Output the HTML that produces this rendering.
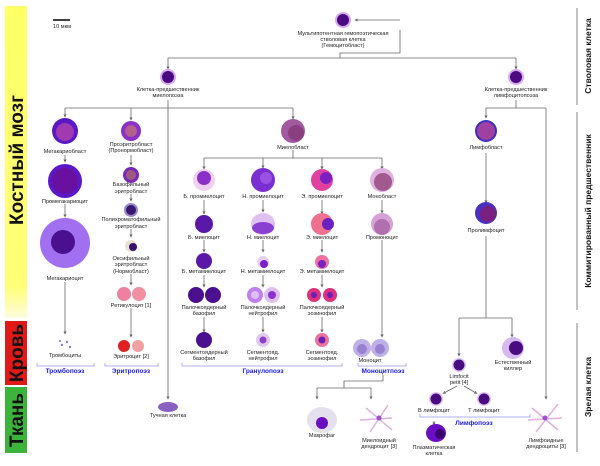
<!DOCTYPE html>
<html><head><meta charset="utf-8"><style>
html,body{margin:0;padding:0;background:#fff;}
svg{display:block}
text{font-family:"Liberation Sans",sans-serif;font-size:5.6px;fill:#222;text-anchor:middle}
.b{font-weight:bold;fill:#1a1aee;font-size:6.5px}
.side{font-weight:bold;font-size:8.5px;fill:#111}
.big{font-weight:bold;font-size:19px;fill:#111}
line,polyline{stroke:#666;stroke-width:0.8;fill:none}
.br{stroke:#99f;stroke-width:0.8;fill:none}
.dd{stroke:#e0b0e0 !important;stroke-width:1.5 !important}
</style></head><body>
<svg width="600" height="466" viewBox="0 0 600 466" xmlns="http://www.w3.org/2000/svg">
<defs>
<linearGradient id="yg" x1="0" y1="0" x2="0" y2="1"><stop offset="0" stop-color="#ffff66"/><stop offset="0.9" stop-color="#ffff77"/><stop offset="1" stop-color="#fffbe0"/></linearGradient>
<marker id="a" markerWidth="4" markerHeight="4" refX="2" refY="2" orient="auto"><path d="M0,0 L4,2 L0,4 z" fill="#666"/></marker>
</defs>
<rect x="5" y="6" width="22" height="312" fill="url(#yg)"/>
<rect x="5" y="321" width="22" height="64" fill="#e01818"/>
<rect x="5" y="387" width="22" height="66" fill="#3cb43c"/>
<text class="big" transform="translate(23,160) rotate(-90)">Костный мозг</text>
<text class="big" transform="translate(23,353) rotate(-90)">Кровь</text>
<text class="big" transform="translate(23,420) rotate(-90)">Ткань</text>
<line x1="577" y1="8" x2="577" y2="105"/><line x1="577" y1="112" x2="577" y2="310"/><line x1="577" y1="323" x2="577" y2="452"/>
<text class="side" transform="translate(591,56) rotate(-90)">Стволовая клетка</text>
<text class="side" transform="translate(591,211) rotate(-90)">Коммитированный предшественник</text>
<text class="side" transform="translate(591,387) rotate(-90)">Зрелая клетка</text>
<line x1="53" y1="20" x2="70" y2="20" style="stroke:#000;stroke-width:1.5"/><text x="62" y="28">10 мкм</text>

<polyline points="400,30 400,53 340,53 340,58"/>
<polyline points="400,20 356,20" marker-end="url(#a)"/>
<line x1="168" y1="58" x2="516" y2="58"/>
<line x1="168" y1="58" x2="168" y2="68" marker-end="url(#a)"/>
<line x1="516" y1="58" x2="516" y2="68" marker-end="url(#a)"/>
<line x1="168" y1="100" x2="168" y2="398" marker-end="url(#a)"/>
<line x1="65" y1="108" x2="293" y2="108"/>
<line x1="65" y1="108" x2="65" y2="116" marker-end="url(#a)"/>
<line x1="131" y1="108" x2="131" y2="119" marker-end="url(#a)"/>
<line x1="293" y1="108" x2="293" y2="118" marker-end="url(#a)"/>
<line x1="293" y1="150" x2="293" y2="158"/>
<line x1="204" y1="158" x2="382" y2="158"/>
<g marker-end="url(#a)">
<line x1="204" y1="158" x2="204" y2="168"/><line x1="263" y1="158" x2="263" y2="167"/><line x1="322" y1="158" x2="322" y2="168"/><line x1="382" y1="158" x2="382" y2="168"/>
<line x1="65" y1="155" x2="65" y2="161"/><line x1="65" y1="204" x2="65" y2="216"/><line x1="65" y1="282" x2="65" y2="333"/>
<line x1="131" y1="155" x2="131" y2="164"/><line x1="131" y1="194" x2="131" y2="200"/><line x1="131" y1="229" x2="131" y2="236"/><line x1="131" y1="274" x2="131" y2="284"/><line x1="131" y1="308" x2="131" y2="336"/>
</g>
<g marker-end="url(#a)">
<line x1="204" y1="200" x2="204" y2="213"/><line x1="204" y1="240" x2="204" y2="251"/><line x1="204" y1="275" x2="204" y2="286"/><line x1="204" y1="317" x2="204" y2="331"/>
<line x1="263" y1="200" x2="263" y2="211"/><line x1="263" y1="240" x2="263" y2="251"/><line x1="263" y1="275" x2="263" y2="286"/><line x1="263" y1="317" x2="263" y2="331"/>
<line x1="322" y1="200" x2="322" y2="213"/><line x1="322" y1="240" x2="322" y2="251"/><line x1="322" y1="275" x2="322" y2="286"/><line x1="322" y1="317" x2="322" y2="331"/>
<line x1="382" y1="200" x2="382" y2="212"/><line x1="382" y1="240" x2="382" y2="336"/>
</g>
<polyline points="383,375 383,381 344,381 344,388"/>
<line x1="317" y1="388" x2="371" y2="388"/>
<line x1="317" y1="388" x2="317" y2="398" marker-end="url(#a)"/>
<line x1="371" y1="388" x2="371" y2="398" marker-end="url(#a)"/>
<polyline points="516,100 516,108 486,108 486,117" marker-end="url(#a)"/>
<line x1="516" y1="108" x2="546" y2="108"/>
<line x1="546" y1="108" x2="546" y2="398" marker-end="url(#a)"/>
<line x1="486" y1="153" x2="486" y2="202" marker-end="url(#a)"/>
<line x1="486" y1="236" x2="486" y2="318"/>
<line x1="459" y1="318" x2="512" y2="318"/>
<line x1="459" y1="318" x2="459" y2="355" marker-end="url(#a)"/>
<line x1="512" y1="318" x2="512" y2="336" marker-end="url(#a)"/>
<line x1="457" y1="386" x2="444" y2="393" marker-end="url(#a)"/>
<line x1="464" y1="386" x2="476" y2="393" marker-end="url(#a)"/>
<line x1="434" y1="421" x2="434" y2="424" marker-end="url(#a)"/>

<path class="br" d="M37,363 v3 h57 v-3"/><path class="br" d="M105,363 v3 h53 v-3"/>
<path class="br" d="M182,363 v3 h160 v-3"/><path class="br" d="M358,363 v3 h48 v-3"/>
<path class="br" d="M420,414 v3 h110 v-3"/>
<text class="b" x="65" y="373">Тромбопоэз</text><text class="b" x="131" y="373">Эритропоэз</text>
<text class="b" x="263" y="373">Гранулопоэз</text><text class="b" x="383" y="373">Моноцитпоэз</text>
<text class="b" x="474" y="425">Лимфопоэз</text>

<g stroke="none">
<circle cx="343" cy="20" r="8" fill="#d8a8f0"/><circle cx="343" cy="20" r="6" fill="#4a0a80"/>
<circle cx="168" cy="77" r="8" fill="#d8a8f0"/><circle cx="168" cy="77" r="6" fill="#4a0a80"/>
<circle cx="516" cy="77" r="8" fill="#d8a8f0"/><circle cx="516" cy="77" r="6" fill="#4a0a80"/>
<circle cx="65" cy="131" r="13" fill="#5a18c8"/><circle cx="65" cy="132" r="9" fill="#a03ab0"/>
<circle cx="65" cy="181" r="17" fill="#5a18c8"/><circle cx="65" cy="181" r="13" fill="#6a10a0"/>
<circle cx="65" cy="243" r="25" fill="#a070f0"/><circle cx="63" cy="242" r="12" fill="#4a1090"/>
<circle cx="131" cy="131" r="10" fill="#8a30c8"/><circle cx="131" cy="131" r="6" fill="#b0608a"/>
<circle cx="131" cy="175" r="8" fill="#7a28b8"/><circle cx="131" cy="175" r="5" fill="#a05a80"/>
<circle cx="131" cy="210" r="7" fill="#9a88c8"/><circle cx="131" cy="210" r="5" fill="#3a1870"/>
<circle cx="131" cy="246" r="6" fill="#e8e0d0"/><circle cx="133" cy="247" r="4" fill="#3a1070"/>
<circle cx="124" cy="294" r="7" fill="#f080a0"/><circle cx="139" cy="294" r="7" fill="#f090a0"/>
<circle cx="124" cy="346" r="6" fill="#e02020"/><circle cx="138" cy="346" r="6" fill="#f0a0a0"/>
<circle cx="62" cy="345" r="1.2" fill="#9a70e0"/><circle cx="67" cy="342" r="1.2" fill="#9a70e0"/><circle cx="70" cy="347" r="1.2" fill="#9a70e0"/><circle cx="60" cy="341" r="1" fill="#9a70e0"/>
<circle cx="293" cy="131" r="12" fill="#a05aa0"/><circle cx="296" cy="133" r="8" fill="#8a4080"/>
<circle cx="204" cy="180" r="11" fill="#f0d0f0"/><circle cx="204" cy="178" r="7" fill="#8a30c8"/>
<circle cx="263" cy="180" r="12" fill="#7a30d0"/><circle cx="266" cy="178" r="6" fill="#9a50e0"/>
<circle cx="322" cy="180" r="11" fill="#e040a0"/><circle cx="326" cy="178" r="6" fill="#7a20c0"/>
<circle cx="382" cy="180" r="12" fill="#e0b0e0"/><circle cx="383" cy="182" r="9" fill="#a05a90"/>
<circle cx="204" cy="224" r="9" fill="#5a18a8"/>
<ellipse cx="263" cy="224" rx="12" ry="11" fill="#e0c0f0"/><ellipse cx="263" cy="228" rx="11" ry="6" fill="#8a40d0"/>
<circle cx="322" cy="224" r="11" fill="#f07090"/><circle cx="328" cy="224" r="6" fill="#6a20c0"/>
<circle cx="382" cy="224" r="11" fill="#d8a0d8"/><circle cx="382" cy="227" r="8" fill="#b070b0"/>
<circle cx="204" cy="261" r="8" fill="#5a18a8"/>
<circle cx="263" cy="262" r="6" fill="#e8d0f0"/><circle cx="264" cy="264" r="4" fill="#7a20c8"/>
<circle cx="322" cy="262" r="7" fill="#f070a0"/><circle cx="322" cy="264" r="4" fill="#7a20c0"/>
<circle cx="196" cy="295" r="8" fill="#4a1090"/><circle cx="213" cy="295" r="8" fill="#4a1090"/>
<circle cx="255" cy="295" r="8" fill="#c080f0"/><circle cx="255" cy="295" r="4" fill="#e0c0f0"/><circle cx="272" cy="295" r="8" fill="#e0c0f0"/><circle cx="272" cy="295" r="4" fill="#8a30d0"/>
<circle cx="314" cy="295" r="7" fill="#e03080"/><circle cx="330" cy="295" r="7" fill="#e03080"/><circle cx="314" cy="295" r="3" fill="#6a20b0"/><circle cx="330" cy="295" r="3" fill="#6a20b0"/>
<circle cx="204" cy="340" r="8" fill="#4a1090"/>
<circle cx="263" cy="340" r="7" fill="#e0c8f0"/><circle cx="263" cy="340" r="3.5" fill="#8a40c8"/>
<circle cx="322" cy="340" r="7" fill="#f070a0"/><circle cx="322" cy="340" r="3.5" fill="#6a20b0"/>
<circle cx="362" cy="348" r="9" fill="#c0b0e8"/><circle cx="380" cy="348" r="9" fill="#c0b0e8"/><circle cx="362" cy="349" r="5" fill="#9a80d0"/><circle cx="380" cy="349" r="5" fill="#9a80d0"/>
<ellipse cx="168" cy="407" rx="10" ry="5" fill="#8a60c0"/>
<circle cx="486" cy="131" r="11" fill="#3a30c0"/><circle cx="486" cy="131" r="9" fill="#a040a0"/>
<circle cx="486" cy="213" r="11" fill="#4a30c0"/><circle cx="488" cy="214" r="8" fill="#7a2080"/>
<circle cx="459" cy="365" r="7" fill="#e0c8f0"/><circle cx="459" cy="365" r="5.5" fill="#4a0a80"/>
<circle cx="513" cy="348" r="11" fill="#d8b8f0"/><circle cx="516" cy="348" r="7" fill="#4a0a80"/>
<circle cx="436" cy="399" r="7" fill="#e0c8f0"/><circle cx="436" cy="399" r="5.5" fill="#4a0a80"/>
<circle cx="484" cy="399" r="7" fill="#e0c8f0"/><circle cx="484" cy="399" r="5.5" fill="#4a0a80"/>
<ellipse cx="436" cy="433" rx="10" ry="9" fill="#6a10c0"/><circle cx="440" cy="434" r="5" fill="#3a0070"/>
<ellipse cx="322" cy="420" rx="15" ry="13" fill="#e4e0ee"/><circle cx="322" cy="423" r="6" fill="#6a10c0"/>
</g>
<line class="dd" x1="366" y1="408" x2="392" y2="430"/><line class="dd" x1="388" y1="405" x2="370" y2="432"/><line class="dd" x1="360" y1="420" x2="392" y2="418"/>
<circle cx="379" cy="418" r="2.5" fill="#9a50d0"/>
<line class="dd" x1="532" y1="408" x2="558" y2="430"/><line class="dd" x1="558" y1="404" x2="536" y2="432"/><line class="dd" x1="528" y1="420" x2="562" y2="418"/>
<circle cx="545" cy="418" r="2.5" fill="#9a50d0"/>

<text x="343" y="35">Мультипотентная гемопоэтическая</text><text x="343" y="41">стволовая клетка</text><text x="343" y="47">(Гемоцитобласт)</text>
<text x="168" y="91">Клетка-предшественник</text><text x="168" y="97">миелопоэза</text>
<text x="516" y="91">Клетка-предшественник</text><text x="516" y="97">лимфоцитопоэза</text>
<text x="65" y="153">Мегакариобласт</text><text x="65" y="203">Промегакариоцит</text><text x="65" y="280">Мегакариоцит</text><text x="65" y="357">Тромбоциты</text>
<text x="131" y="146">Проэритробласт</text><text x="131" y="152">(Пронормобласт)</text>
<text x="131" y="186">Базофильный</text><text x="131" y="193">эритробласт</text>
<text x="131" y="221">Полихроматофильный</text><text x="131" y="228">эритробласт</text>
<text x="131" y="260">Оксифильный</text><text x="131" y="266">эритробласт</text><text x="131" y="273">(Нормобласт)</text>
<text x="131" y="307">Ретикулоцит [1]</text><text x="131" y="358">Эритроцит [2]</text>
<text x="293" y="149">Миелобласт</text>
<text x="204" y="198">Б. промиелоцит</text><text x="263" y="198">Н. промиелоцит</text><text x="322" y="198">Э. промиелоцит</text><text x="382" y="198">Монобласт</text>
<text x="204" y="239">Б. миелоцит</text><text x="263" y="239">Н. миелоцит</text><text x="322" y="239">Э. миелоцит</text><text x="382" y="239">Промоноцит</text>
<text x="204" y="273">Б. метамиелоцит</text><text x="263" y="273">Н. метамиелоцит</text><text x="322" y="273">Э. метамиелоцит</text>
<text x="204" y="309">Палочкоядерный</text><text x="204" y="315">базофил</text>
<text x="263" y="309">Палочкоядерный</text><text x="263" y="315">нейтрофил</text>
<text x="322" y="309">Палочкоядерный</text><text x="322" y="315">эозинофил</text>
<text x="204" y="354">Сегментоядерный</text><text x="204" y="360">базофил</text>
<text x="263" y="354">Сегментояд.</text><text x="263" y="360">нейтрофил</text>
<text x="322" y="354">Сегментояд.</text><text x="322" y="360">эозинофил</text>
<text x="370" y="362">Моноцит</text>
<text x="168" y="417">Тучная клетка</text>
<text x="486" y="149">Лимфобласт</text><text x="486" y="232">Пролимфоцит</text>
<text x="459" y="378">Limfocit</text><text x="459" y="384">petit [4]</text>
<text x="513" y="364">Естественный</text><text x="513" y="370">киллер</text>
<text x="434" y="412">B лимфоцит</text><text x="484" y="412">T лимфоцит</text>
<text x="434" y="449">Плазматическая</text><text x="434" y="455">клетка</text>
<text x="322" y="437">Макрофаг</text>
<text x="379" y="442">Миелоидный</text><text x="379" y="448">дендроцит [3]</text>
<text x="546" y="442">Лимфоидные</text><text x="546" y="448">дендроциты [3]</text>
</svg>
</body></html>
